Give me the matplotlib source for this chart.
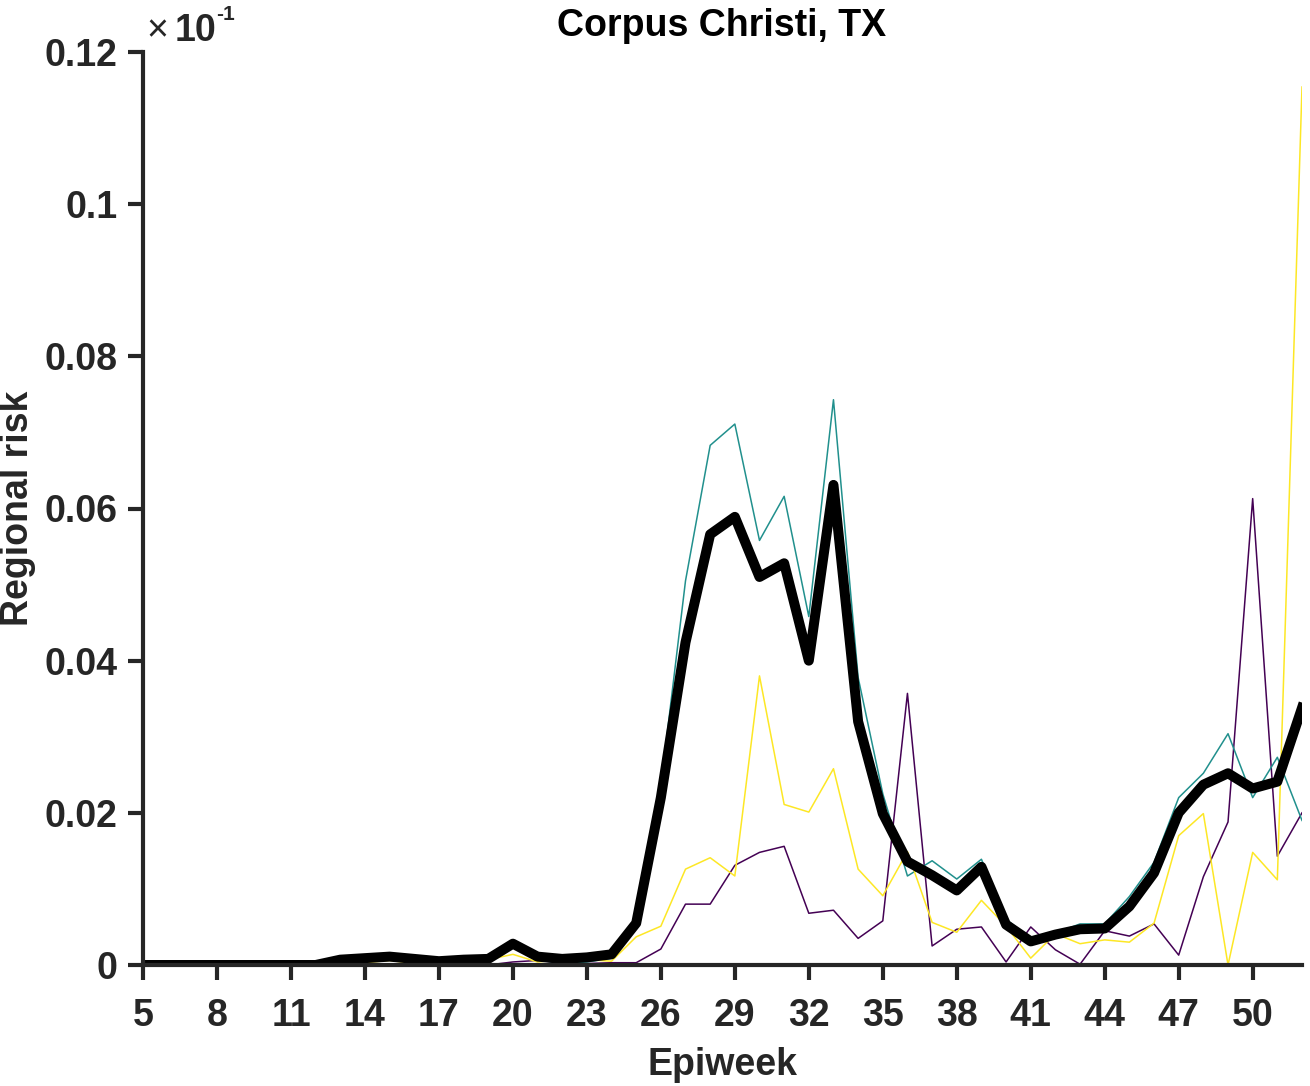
import numpy as np
import matplotlib
matplotlib.use("Agg")
import matplotlib.pyplot as plt

plt.rcParams['font.family'] = ['Liberation Sans', 'DejaVu Sans']

weeks = np.arange(5, 53)

# mean regional risk (thick black)
risk_mean = [0, 0, 0, 0, 0, 0, 0, 0,
             0.0007, 0.0009, 0.0011, 0.0008, 0.0005, 0.0007, 0.0008, 0.0028,
             0.0011, 0.0008, 0.0010, 0.0014, 0.0055, 0.0220, 0.0424, 0.0566,
             0.0589, 0.0510, 0.0528, 0.0400, 0.0631, 0.0320, 0.0199, 0.0136,
             0.0118, 0.0098, 0.0129, 0.0053, 0.0031, 0.0040, 0.0047, 0.0048,
             0.0077, 0.0121, 0.0200, 0.0237, 0.0252, 0.0232, 0.0241, 0.0338]

risk_teal = [0, 0, 0, 0, 0, 0, 0, 0,
             0.0005, 0.0007, 0.0009, 0.0006, 0.0004, 0.0004, 0.0006, 0.0026,
             0.0007, 0.0002, 0.0004, 0.0009, 0.0057, 0.0235, 0.0505, 0.0683,
             0.0711, 0.0558, 0.0616, 0.0458, 0.0743, 0.0378, 0.0225, 0.0117,
             0.0137, 0.0113, 0.0139, 0.0060, 0.0035, 0.0042, 0.0054, 0.0054,
             0.0090, 0.0135, 0.0220, 0.0252, 0.0304, 0.0220, 0.0273, 0.0190]

risk_purple = [0, 0, 0, 0, 0, 0, 0, 0,
               0, 0, 0, 0, 0, 0, 0, 0.0004,
               0.0006, 0.0003, 0.0002, 0.0003, 0.0003, 0.0021, 0.0080, 0.0080,
               0.0131, 0.0148, 0.0156, 0.0068, 0.0072, 0.0035, 0.0058, 0.0357,
               0.0025, 0.0047, 0.0050, 0.0004, 0.0050, 0.0020, 0.0001, 0.0045,
               0.0038, 0.0054, 0.0013, 0.0116, 0.0188, 0.0613, 0.0143, 0.0200]

risk_yellow = [0, 0, 0, 0, 0, 0, 0, 0,
               0.0002, 0.0003, 0.0006, 0.0002, 0.0005, 0.0003, 0.0007, 0.0014,
               0.0004, 0.0007, 0.0007, 0.0005, 0.0037, 0.0051, 0.0126, 0.0141,
               0.0117, 0.0380, 0.0211, 0.0201, 0.0258, 0.0126, 0.0091, 0.0149,
               0.0056, 0.0043, 0.0085, 0.0051, 0.0009, 0.0041, 0.0028, 0.0033,
               0.0030, 0.0055, 0.0170, 0.0199, 0.0000, 0.0148, 0.0112, 0.1154]

xticks = np.arange(5, 51, 3)
yticks = [0, 0.02, 0.04, 0.06, 0.08, 0.1, 0.12]
ytick_labels = ['0', '0.02', '0.04', '0.06', '0.08', '0.1', '0.12']

W, H = 1310, 1086
fig = plt.figure(figsize=(W / 100, H / 100), dpi=100)
ax = fig.add_axes([143 / W, 1 - 965 / H, (1302 - 143) / W, (965 - 52) / H])

ax.plot(weeks, risk_purple, color='#440154', lw=1.1)
ax.plot(weeks, risk_teal, color='#21908d', lw=1.1)
ax.plot(weeks, risk_yellow, color='#fde725', lw=1.1)
ax.plot(weeks, risk_mean, color='black', lw=7.2, solid_joinstyle='round')

ax.set_xlim(5, 52)
ax.set_ylim(0, 0.12)
ax.set_xticks(xticks)
ax.set_yticks(yticks)
ax.set_yticklabels(ytick_labels)

for s in ['top', 'right']:
    ax.spines[s].set_visible(False)
for s in ['left', 'bottom']:
    ax.spines[s].set_linewidth(3)
    ax.spines[s].set_color('#262626')
ax.tick_params(direction='out', length=10.5, width=3, color='#262626',
               labelsize=27, labelcolor='#262626')
ax.tick_params(axis='x', pad=13.5)
ax.tick_params(axis='y', pad=8)
for lab in ax.get_xticklabels() + ax.get_yticklabels():
    lab.set_fontweight('bold')

ax.set_xlabel('Epiweek', fontsize=27, fontweight='bold', color='#262626')
ax.xaxis.label.set_va('baseline')
ax.xaxis.set_label_coords(0.5, (965 - 1075) / 913)
ax.set_ylabel('Regional risk', fontsize=27, fontweight='bold', color='#262626')
ax.yaxis.label.set_va('center')
ax.yaxis.set_label_coords((18 - 143) / 1159, 0.5)

fig.text(722 / W, 1 - 36 / H, 'Corpus Christi, TX', fontsize=27, fontweight='bold',
         color='black', ha='center', va='baseline')

# axis multiplier
fig.text(157 / W, 1 - 31 / H, '\u00d7', fontsize=27, color='#262626', ha='center', va='center')
fig.text(175 / W, 1 - 41 / H, '10', fontsize=27, fontweight='bold', color='#262626', va='baseline')
fig.text(216 / W, 1 - 20 / H, '-1', fontsize=15, fontweight='bold', color='#262626', va='baseline')

fig.savefig('out.png', dpi=100)
